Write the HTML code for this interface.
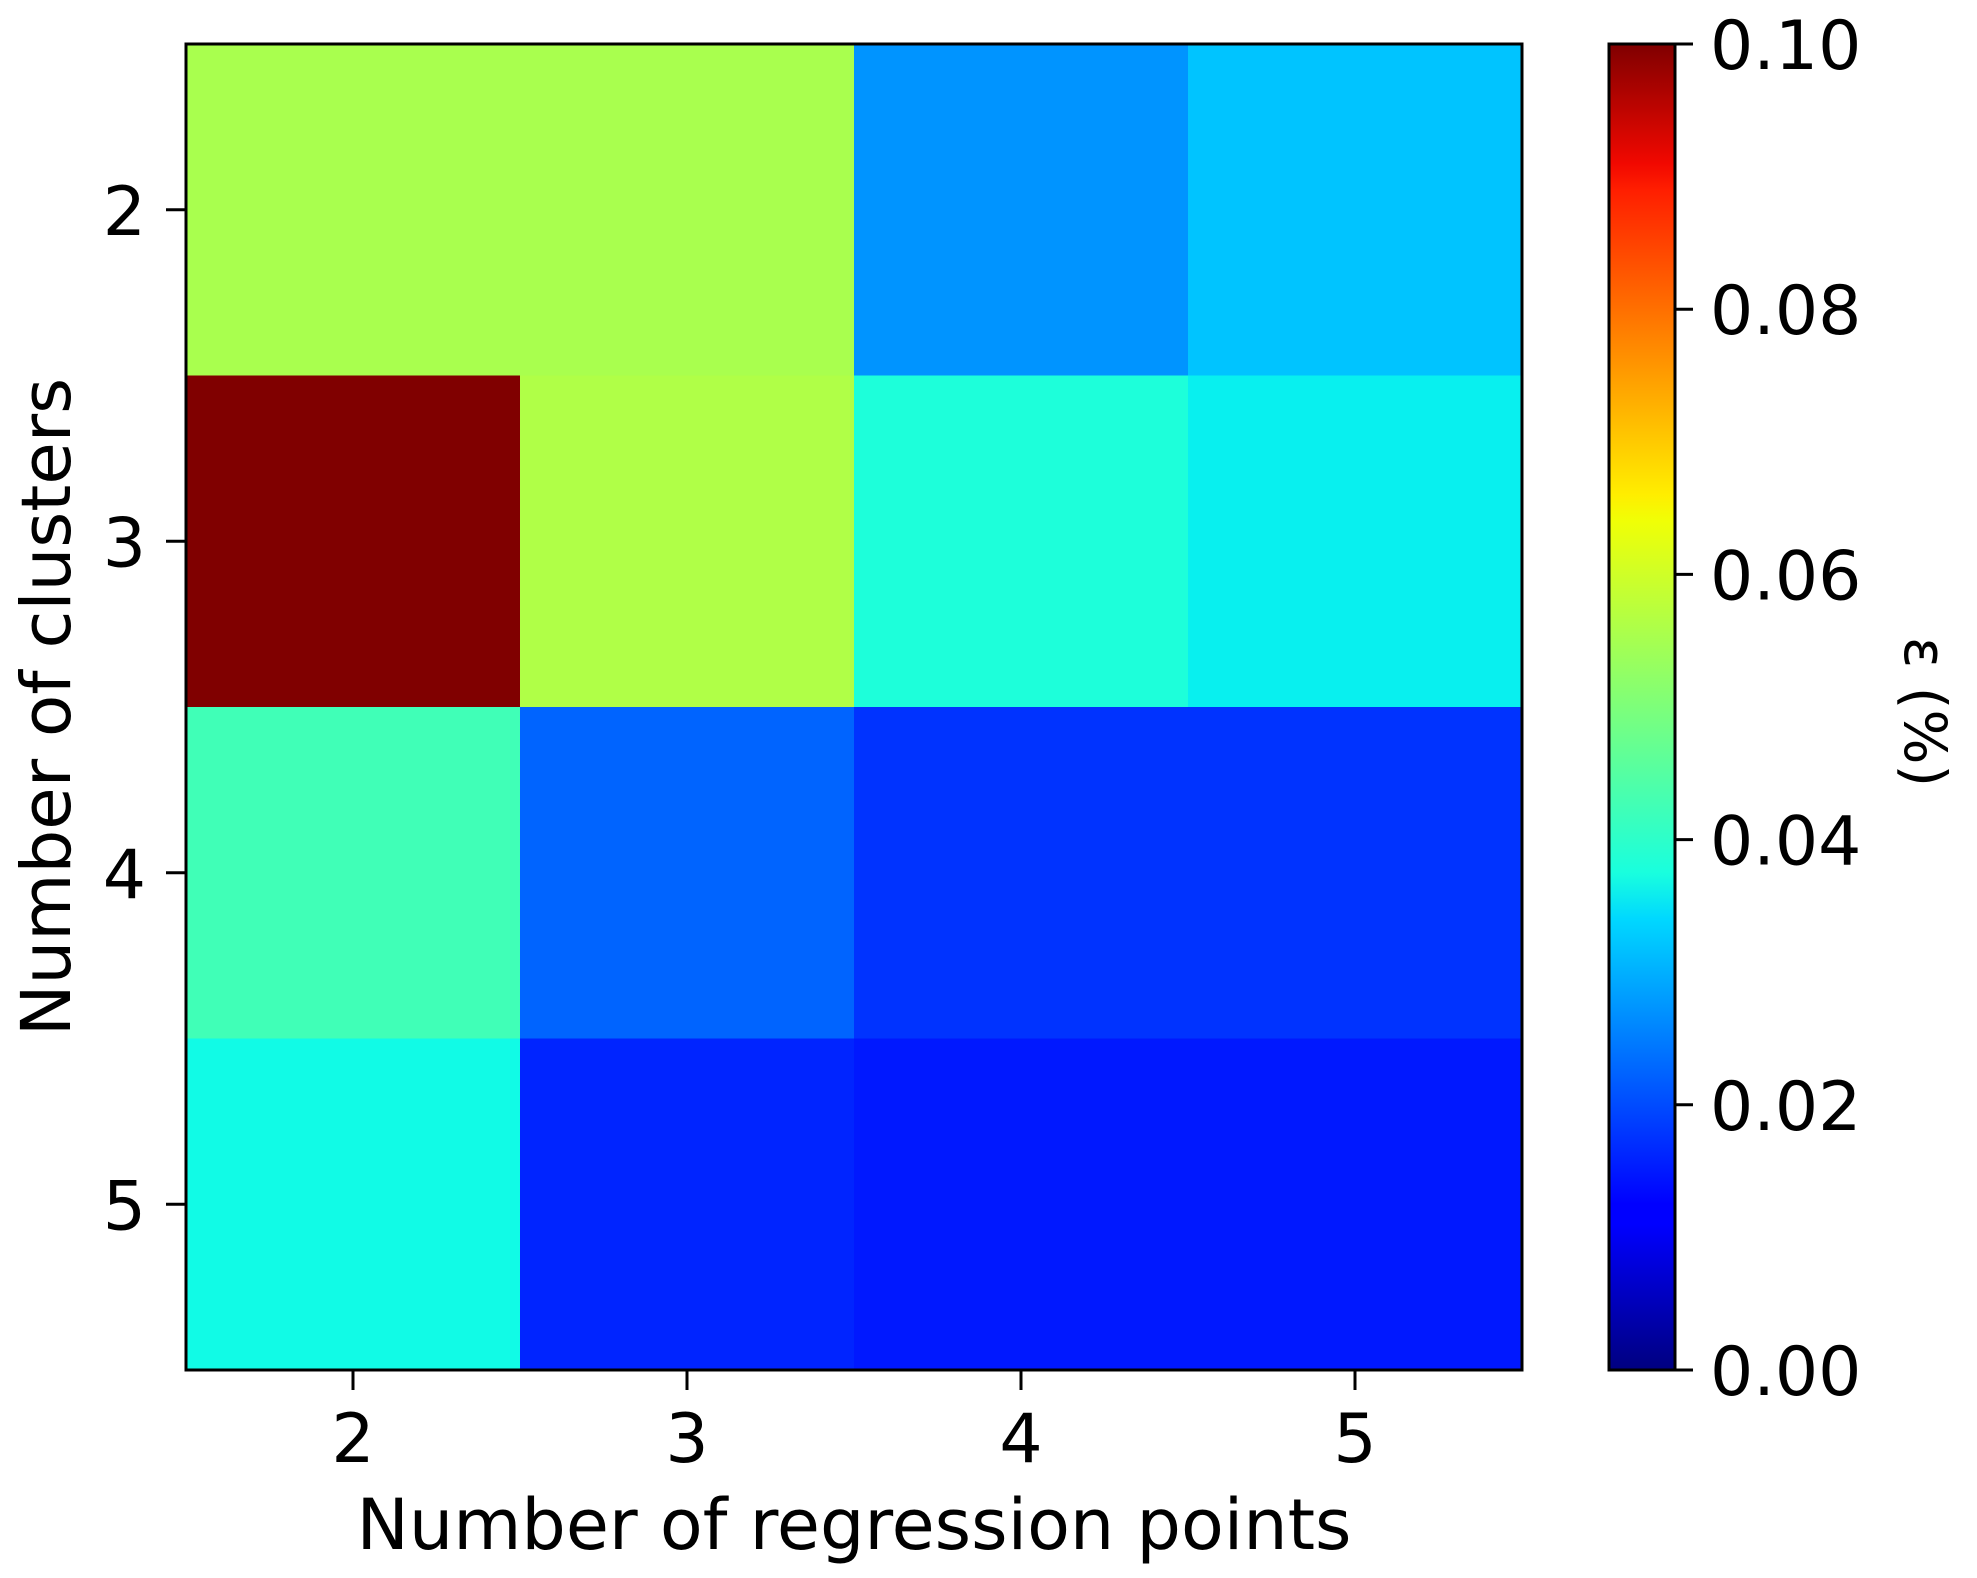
<!DOCTYPE html>
<html><head><meta charset="utf-8"><style>
html,body{margin:0;padding:0;background:#fff;}
svg{display:block;font-family:"DejaVu Sans","Liberation Sans",sans-serif;}
</style></head><body>
<svg id="chart" width="1977" height="1578" viewBox="0 0 1977 1578" xmlns="http://www.w3.org/2000/svg">
<defs>
<linearGradient id="jet" x1="0" y1="1" x2="0" y2="0">
<stop offset="0" stop-color="#000080"/>
<stop offset="0.11" stop-color="#0000ff"/>
<stop offset="0.125" stop-color="#0000ff"/>
<stop offset="0.34" stop-color="#00d8ff"/>
<stop offset="0.375" stop-color="#19ffde"/>
<stop offset="0.5" stop-color="#7dff7a"/>
<stop offset="0.64" stop-color="#f0ff06"/>
<stop offset="0.66" stop-color="#ffee00"/>
<stop offset="0.89" stop-color="#ff1e00"/>
<stop offset="0.91" stop-color="#f10800"/>
<stop offset="1" stop-color="#800000"/>
</linearGradient>
</defs>
<g id="cells"></g>
<g id="axes"></g>
</svg>
<script>
const xCategories = [2, 3, 4, 5];
const yCategories = [2, 3, 4, 5];
const row2 = [0.0555, 0.0555, 0.027, 0.0317];
const row3 = [0.100, 0.0564, 0.0385, 0.036];
const row4 = [0.0428, 0.0223, 0.0175, 0.0175];
const row5 = [0.0371, 0.016, 0.0149, 0.0149];
const colorbarTicks = [0.00, 0.02, 0.04, 0.06, 0.08, 0.10];
const vmin = 0, vmax = 0.1;

const NS = "http://www.w3.org/2000/svg";
const L = 186, R = 1522, T = 44, B = 1370;
const cw = (R - L) / xCategories.length, ch = (B - T) / yCategories.length;
const xPos = i => L + cw * (i + 0.5);
const yPos = i => T + ch * (i + 0.5);
const CBL = 1609, CBR = 1675, CBT = 44, CBB = 1370;
const cbY = v => CBB - (v - vmin) / (vmax - vmin) * (CBB - CBT);

function interp(x, pts) {
  for (let k = 0; k < pts.length - 1; k++) {
    const [x0, y0] = pts[k], [x1, y1] = pts[k + 1];
    if (x <= x1) return y0 + (y1 - y0) * (x - x0) / (x1 - x0);
  }
  return pts[pts.length - 1][1];
}
function jet(v) {
  let x = Math.max(0, Math.min(1, (v - vmin) / (vmax - vmin)));
  const r = interp(x, [[0,0],[0.35,0],[0.66,1],[0.89,1],[1,0.5]]);
  const g = interp(x, [[0,0],[0.125,0],[0.375,1],[0.64,1],[0.91,0],[1,0]]);
  const b = interp(x, [[0,0.5],[0.11,1],[0.34,1],[0.65,0],[1,0]]);
  return `rgb(${Math.round(r*255)},${Math.round(g*255)},${Math.round(b*255)})`;
}
function mk(tag, attrs, parent, text) {
  const e = document.createElementNS(NS, tag);
  for (const k in attrs) e.setAttribute(k, attrs[k]);
  if (text !== undefined) e.textContent = text;
  parent.appendChild(e);
  return e;
}
const cells = document.getElementById('cells');
const axes = document.getElementById('axes');
const rows = [row2, row3, row4, row5];
rows.forEach((row, ri) => {
  row.forEach((v, ci) => {
    const r = mk('rect', {x: L + ci * cw, y: T + ri * ch, width: cw + 0.5, height: ch + 0.5, fill: jet(v)}, cells);
    
    
  });
});
const frame = mk('rect', {x: L, y: T, width: R - L, height: B - T, fill: 'none', stroke: '#000', 'stroke-width': 3}, axes);



xCategories.forEach((c, i) => {
  const t = mk('line', {x1: xPos(i), x2: xPos(i), y1: B, y2: B + 20, stroke: '#000', 'stroke-width': 3}, axes);
  
  
  const lb = mk('text', {x: xPos(i), y: 1462, 'font-size': 68, 'text-anchor': 'middle'}, axes, c);
  
  
});
yCategories.forEach((c, i) => {
  const t = mk('line', {x1: L - 20, x2: L, y1: yPos(i), y2: yPos(i), stroke: '#000', 'stroke-width': 3}, axes);
  
  
  const lb = mk('text', {x: 146, y: yPos(i) + 25, 'font-size': 68, 'text-anchor': 'end'}, axes, c);
  
  
});
const xl = mk('text', {x: (L + R) / 2, y: 1549, 'font-size': 70, 'text-anchor': 'middle'}, axes, 'Number of regression points');


const yl = mk('text', {x: 0, y: 0, 'font-size': 69, 'text-anchor': 'middle', transform: `translate(70,${(T + B) / 2}) rotate(-90)`}, axes, 'Number of clusters');



const cb = mk('rect', {x: CBL, y: CBT, width: CBR - CBL, height: CBB - CBT, fill: 'url(#jet)', stroke: '#000', 'stroke-width': 3}, axes);


colorbarTicks.forEach(v => {
  const t = mk('line', {x1: CBR, x2: CBR + 18, y1: cbY(v), y2: cbY(v), stroke: '#000', 'stroke-width': 3}, axes);
  
  
  const lb = mk('text', {x: 1710, y: cbY(v) + 25, 'font-size': 68}, axes, v.toFixed(2));
  
  
});
const cl = mk('text', {x: 0, y: 0, 'font-size': 58, 'text-anchor': 'middle', transform: `translate(1905,712) rotate(90)`}, axes, 'ε (%)');


</script>
</body></html>
